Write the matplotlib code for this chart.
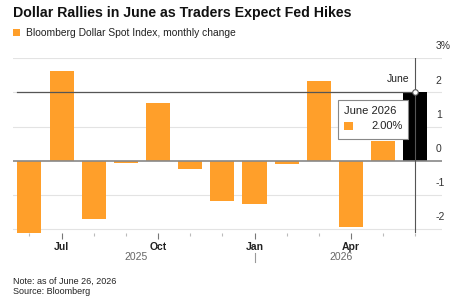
import matplotlib.pyplot as plt
from matplotlib.patches import Rectangle

months = ['Jun', 'Jul', 'Aug', 'Sep', 'Oct', 'Nov', 'Dec',
          'Jan', 'Feb', 'Mar', 'Apr', 'May', 'Jun']
changes = [-2.11, 2.63, -1.70, -0.06, 1.70, -0.24, -1.17,
           -1.26, -0.08, 2.34, -1.92, 0.57, 2.00]
tick_months = ['Jul', 'Oct', 'Jan', 'Apr']
years = ['2025', '2026']

orange = '#FF9F2A'
plt.rcParams['font.family'] = ['Liberation Sans', 'DejaVu Sans']

fig = plt.figure(figsize=(4.64, 3.0), dpi=100)
ax = fig.add_axes([0.0274, 0.222, 0.9252, 0.5837])

x = list(range(len(changes)))
colors = [orange] * (len(changes) - 1) + ['black']
ax.bar(x, changes, width=0.75, color=colors, zorder=2)

ax.set_xlim(-0.52, 12.83)
ax.set_ylim(-2.12, 3)
for s in ax.spines.values():
    s.set_visible(False)

# grid + y labels drawn above lines on the right
for v in [-2, -1, 1, 2, 3]:
    ax.axhline(v, color='#e3e3e3', lw=0.8, zorder=0)
ax.axhline(0, color='#888888', lw=1.2, zorder=3)
ax.set_yticks([])
for v in [-2, -1, 0, 1, 2, 3]:
    lab = f'{v}%' if v == 3 else str(v)
    ax.annotate(lab, (12.83, v), xytext=(-4.5, 5), textcoords='offset points',
                ha='left', va='bottom', fontsize=7.5, color='#333333')

# x ticks
ax.set_xticks(x, minor=True)
ax.tick_params(axis='x', which='minor', length=2, color='#bbbbbb', width=0.8)
major = [1, 4, 7, 10]
ax.set_xticks(major)
ax.set_xticklabels(tick_months, fontsize=7.5, fontweight='bold', color='#222222')
ax.tick_params(axis='x', which='major', length=4, color='#777777', width=0.8, pad=2)

ax.text(3.32, -0.133, years[0], transform=ax.get_xaxis_transform(),
        ha='center', va='center', fontsize=7.5, color='#666666')
ax.text(9.69, -0.133, years[1], transform=ax.get_xaxis_transform(),
        ha='center', va='center', fontsize=7.5, color='#666666')
ax.plot([7.02, 7.02], [-0.112, -0.164], transform=ax.get_xaxis_transform(),
        color='#999999', lw=0.8, clip_on=False)

# crosshair on last bar
last = len(changes) - 1
ax.axvline(last, color='#555555', lw=0.8, zorder=4)
ax.plot([-0.4, last], [changes[last]] * 2, color='#555555', lw=0.9, zorder=4)
ax.plot(last, changes[last], 'o', ms=4, mfc='white', mec='#555555', mew=0.8, zorder=5)
ax.annotate('June', (last, changes[last]), xytext=(-4, 6), textcoords='offset points',
            ha='right', va='bottom', fontsize=7.5, color='#222222')

# tooltip
ax.add_patch(Rectangle((9.6, 0.64), 2.16, 1.15, facecolor='white',
                       edgecolor='#888888', lw=0.8, zorder=6))
ax.text(9.78, 1.45, 'June 2026', fontsize=8, color='#222222', va='center', zorder=7)
ax.add_patch(Rectangle((9.78, 0.89), 0.29, 0.26, facecolor=orange, lw=0, zorder=7))
ax.text(11.6, 1.02, f'{changes[last]:.2f}%', fontsize=8, color='#222222',
        ha='right', va='center', zorder=7)

# header
fig.text(0.028, 0.955, 'Dollar Rallies in June as Traders Expect Fed Hikes',
         fontsize=10.2, fontweight='bold', va='center', color='#111111')
fig.patches.append(Rectangle((13 / 464, 1 - 36 / 300), 7 / 464, 7 / 300,
                             transform=fig.transFigure, facecolor=orange, lw=0))
fig.text(26.5 / 464, 1 - 33 / 300, 'Bloomberg Dollar Spot Index, monthly change',
         fontsize=7.4, va='center', color='#222222')

fig.text(0.028, 1 - 281 / 300, 'Note: as of June 26, 2026', fontsize=6.5,
         va='center', color='#222222')
fig.text(0.028, 1 - 291.5 / 300, 'Source: Bloomberg', fontsize=6.5,
         va='center', color='#222222')

fig.savefig('out.png', dpi=100)
